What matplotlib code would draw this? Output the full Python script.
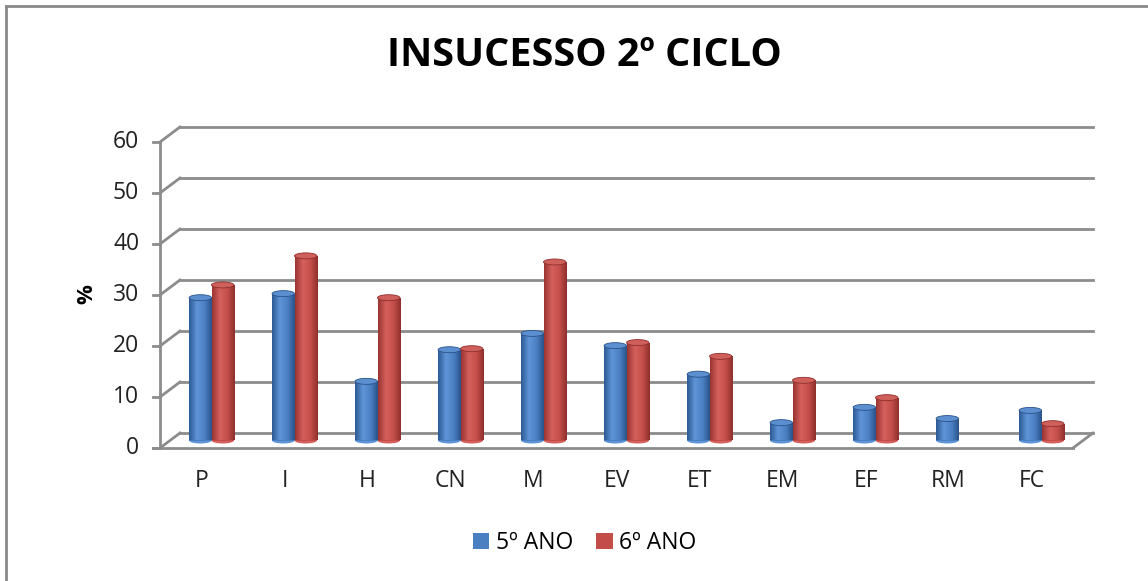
import numpy as np
import matplotlib
matplotlib.use('Agg')
import matplotlib.pyplot as plt
from matplotlib.patches import Ellipse, Patch
from matplotlib.lines import Line2D
from matplotlib.colors import LinearSegmentedColormap

plt.rcParams['font.family'] = ['Open Sans', 'DejaVu Sans']

# data
categories = ['P', 'I', 'H', 'CN', 'M', 'EV', 'ET', 'EM', 'EF', 'RM', 'FC']
ano5 = [28, 28.8, 11.6, 17.8, 21, 18.6, 13, 3.5, 6.5, 4.3, 5.9]
ano6 = [30.5, 36.2, 28, 18, 35, 19.2, 16.5, 11.8, 8.4, 0, 3.3]
series_names = ['5º ANO', '6º ANO']
yticks = [0, 10, 20, 30, 40, 50, 60]

W, H = 1148, 581
fig = plt.figure(figsize=(W / 100, H / 100), dpi=100)
ax = fig.add_axes([170 / W, (H - 440.5) / H, 913 / W, 306 / H])
ax.set_xlim(-0.5, 10.5)
ax.set_ylim(0, 60)
ax.axis('off')

# depth offset (half the depth of the 3d box), in data units
DX = 10 / (913 / 11)
DY = 7.5 / 5.1
grid_c = '#8c8c8c'
x0, x1 = -0.5, len(categories) - 0.5

# back wall gridlines and left side wall diagonals
for t in yticks:
    ax.plot([x0 + DX, x1 + DX], [t + DY, t + DY], color=grid_c, lw=2, zorder=0, clip_on=False)
    ax.plot([x0 - DX, x0 + DX], [t - DY, t + DY], color=grid_c, lw=2, zorder=0, clip_on=False)
    ax.plot([x0 - DX - 0.085, x0 - DX], [t - DY, t - DY], color=grid_c, lw=2, zorder=0, clip_on=False)
    ax.text(x0 - DX - 0.25, t - DY, str(t), ha='right', va='center', fontsize=16.5, color='#222222')

# front axis and floor
ax.plot([x0 - DX, x0 - DX], [-DY, 60 - DY], color=grid_c, lw=2, zorder=0, clip_on=False)
ax.plot([x0 - DX - 0.085, x1 - DX], [-DY, -DY], color=grid_c, lw=2, zorder=0, clip_on=False)
ax.plot([x1 - DX, x1 + DX], [-DY, DY], color=grid_c, lw=2, zorder=0, clip_on=False)

# cylinder bars
bw = 0.27
styles = [
    (['#2d5a94', '#5f95d8', '#4a7fc2', '#2a5288'], '#5c8fd0'),
    (['#9a3532', '#d5605c', '#c24d49', '#8e2f2c'], '#cf5f5b'),
]
eh = 6 / 5.1
for k, vals in enumerate([ano5, ano6]):
    cols, top_c = styles[k]
    cmap = LinearSegmentedColormap.from_list('cyl%d' % k, list(zip([0, 0.35, 0.7, 1], cols)))
    grad = np.linspace(0, 1, 64).reshape(1, -1)
    xs = np.arange(len(categories)) + (k - 0.5) * bw
    bars = ax.bar(xs, vals, width=bw, color=cols[2], zorder=3, linewidth=0)
    for b, v, x in zip(bars, vals, xs):
        if v <= 0:
            b.set_visible(False)
            continue
        im = ax.imshow(grad, cmap=cmap, extent=(x - bw / 2, x + bw / 2, 0, v),
                       aspect='auto', zorder=3.1, interpolation='bilinear')
        im.set_clip_path(b)
        ax.add_patch(Ellipse((x, 0), bw, eh, facecolor=cols[1], edgecolor='none',
                             zorder=2.9, clip_on=False))
        ax.add_patch(Ellipse((x, v), bw, eh, facecolor=top_c, edgecolor=cols[3],
                             lw=0.6, zorder=3.2, clip_on=False))

ax.set_xlim(-0.5, 10.5)
ax.set_ylim(0, 60)

# category labels on the front edge
for i, c in enumerate(categories):
    ax.text(i - DX, -7.9, c, ha='center', va='center', fontsize=16.5, color='#222222')

fig.text(584 / W, 1 - 55 / H, 'INSUCESSO 2º CICLO', ha='center', va='center',
         fontsize=28.5, fontweight='bold', color='black')
fig.text(87 / W, 1 - 294 / H, '%', rotation=90, ha='center', va='center',
         fontsize=16, fontweight='bold', color='black')

handles = [Patch(facecolor='#4a7fc2'), Patch(facecolor='#c24d49')]
fig.legend(handles, series_names, loc='center', bbox_to_anchor=(585 / W, 1 - 543 / H),
           ncol=2, frameon=False, fontsize=16.5, handlelength=0.7, handleheight=0.7,
           handletextpad=0.3, columnspacing=1.0)

# outer chart border (only top and left visible in the crop)
fig.add_artist(Line2D([6 / W, 6 / W], [0, 1 - 6 / H], color='#8a8a8a', lw=2,
                      transform=fig.transFigure))
fig.add_artist(Line2D([6 / W, 1], [1 - 6 / H, 1 - 6 / H], color='#8a8a8a', lw=2,
                      transform=fig.transFigure))

fig.savefig('out.png', dpi=100, facecolor='white')
